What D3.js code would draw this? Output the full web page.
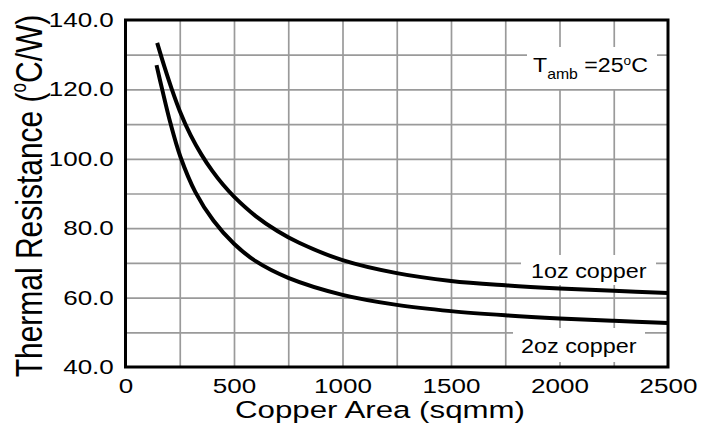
<!DOCTYPE html>
<html>
<head>
<meta charset="utf-8">
<script src="https://cdn.jsdelivr.net/npm/d3@7"></script>
<style>
  body { margin: 0; background: #fff; }
  text { font-family: "Liberation Sans", Arial, sans-serif; fill: #000; }
</style>
</head>
<body>
<div id="chart"></div>
<script>
// values
const area1oz = [146, 180, 212, 250, 300, 350, 400, 450, 500, 600, 700, 800, 1000, 1250, 1500, 1750, 2000, 2250, 2500];
const res1oz  = [133.4, 126.4, 120.3, 113.8, 106.8, 101.2, 96.5, 92.5, 89.1, 83.5, 79.2, 75.8, 70.8, 67.05, 64.8, 63.55, 62.65, 61.95, 61.33];
const area2oz = [143, 169, 207, 253, 322, 405, 500, 600, 750, 1000, 1250, 1500, 1750, 2000, 2250, 2500];
const res2oz  = [127.0, 120.0, 110.3, 100.6, 90.4, 82.2, 75.5, 70.5, 65.7, 60.8, 57.9, 56.1, 54.9, 54.0, 53.3, 52.7];
const xTicks = [0, 500, 1000, 1500, 2000, 2500];
const yTicks = [40, 60, 80, 100, 120, 140];
const seriesNames = ["1oz copper", "2oz copper"];

const width = 716;
const height = 433;
const margin = { top: 20, right: 48, bottom: 66, left: 125.5 };

const svg = d3.select("#chart")
    .append("svg")
    .attr("width", width)
    .attr("height", height);

const x = d3.scaleLinear().domain([0, 2500]).range([margin.left, width - margin.right]);
const y = d3.scaleLinear().domain([40, 140]).range([height - margin.bottom, margin.top]);

// grid
svg.append("g")
    .attr("transform", `translate(0,${y(40)})`)
    .call(d3.axisBottom(x).tickValues(d3.range(250, 2500, 250)).tickSize(y(140) - y(40)).tickFormat(""))
    .call(g => g.select(".domain").remove())
    .selectAll("line").attr("stroke", "#9a9a9a").attr("stroke-width", 1.7);

svg.append("g")
    .attr("transform", `translate(${x(0)},0)`)
    .call(d3.axisLeft(y).tickValues(d3.range(50, 140, 10)).tickSize(x(0) - x(2500)).tickFormat(""))
    .call(g => g.select(".domain").remove())
    .selectAll("line").attr("stroke", "#9a9a9a").attr("stroke-width", 1.7);

// white boxes behind the labels
const boxes = [
    { x0: 527, y0: 47, x1: 657, y1: 89 },
    { x0: 521, y0: 255, x1: 656, y1: 285 },
    { x0: 513, y0: 328, x1: 645, y1: 362 }
];
svg.selectAll("rect.box")
    .data(boxes)
    .enter()
    .append("rect")
    .attr("class", "box")
    .attr("x", d => d.x0)
    .attr("y", d => d.y0)
    .attr("width", d => d.x1 - d.x0)
    .attr("height", d => d.y1 - d.y0)
    .attr("fill", "#fff");

// curves
const line = d3.line()
    .x(d => x(d[0]))
    .y(d => y(d[1]))
    .curve(d3.curveCatmullRom.alpha(0.5));

const curves = [d3.zip(area1oz, res1oz), d3.zip(area2oz, res2oz)];
svg.selectAll("path.curve")
    .data(curves)
    .enter()
    .append("path")
    .attr("class", "curve")
    .attr("d", line)
    .attr("fill", "none")
    .attr("stroke", "#000")
    .attr("stroke-width", 4);

// frame
svg.append("rect")
    .attr("x", x(0))
    .attr("y", y(140))
    .attr("width", x(2500) - x(0))
    .attr("height", y(40) - y(140))
    .attr("fill", "none")
    .attr("stroke", "#000")
    .attr("stroke-width", 3);

// tick labels
svg.append("g")
    .attr("transform", `translate(0,${y(40)})`)
    .call(d3.axisBottom(x).tickValues(xTicks).tickSize(0).tickPadding(11.4).tickFormat(d3.format("d")))
    .call(g => g.select(".domain").remove())
    .selectAll("text")
    .attr("font-size", 20.5)
    .attr("font-family", "Liberation Sans, Arial, sans-serif")
    .attr("transform", "scale(1.27,1)");

svg.append("g")
    .attr("transform", `translate(${x(0)},0)`)
    .call(d3.axisLeft(y).tickValues(yTicks).tickSize(0).tickPadding(9.2).tickFormat(d3.format(".1f")))
    .call(g => g.select(".domain").remove())
    .selectAll("text")
    .attr("font-size", 20.5)
    .attr("font-family", "Liberation Sans, Arial, sans-serif")
    .attr("transform", "scale(1.27,1)");

// axis titles
svg.append("text")
    .attr("transform", "translate(380,418) scale(1.33,1)")
    .attr("text-anchor", "middle")
    .attr("font-size", 23.5)
    .text("Copper Area (sqmm)");

const yTitle = svg.append("text")
    .attr("transform", "translate(42,196) rotate(-90) scale(1,1.25)")
    .attr("text-anchor", "middle")
    .attr("font-size", 30);
yTitle.append("tspan").text("Thermal Resistance (");
yTitle.append("tspan").attr("font-size", 17).attr("dy", -13).text("o");
yTitle.append("tspan").attr("dy", 13).text("C/W)");

// ambient temperature note
const note = svg.append("text")
    .attr("transform", "translate(533,72) scale(1.13,1)")
    .attr("font-size", 20.5);
note.append("tspan").text("T");
note.append("tspan").attr("font-size", 14).attr("dy", 7).text("amb");
note.append("tspan").attr("dy", -7).text(" =25");
note.append("tspan").attr("font-size", 12).attr("dy", -7).text("o");
note.append("tspan").attr("dy", 7).text("C");

// series labels
svg.selectAll("text.series")
    .data(seriesNames)
    .enter()
    .append("text")
    .attr("class", "series")
    .attr("transform", (d, i) => i === 0 ? "translate(531,278) scale(1.14,1)" : "translate(521,353) scale(1.14,1)")
    .attr("font-size", 20.5)
    .text(d => d);
</script>
</body>
</html>
